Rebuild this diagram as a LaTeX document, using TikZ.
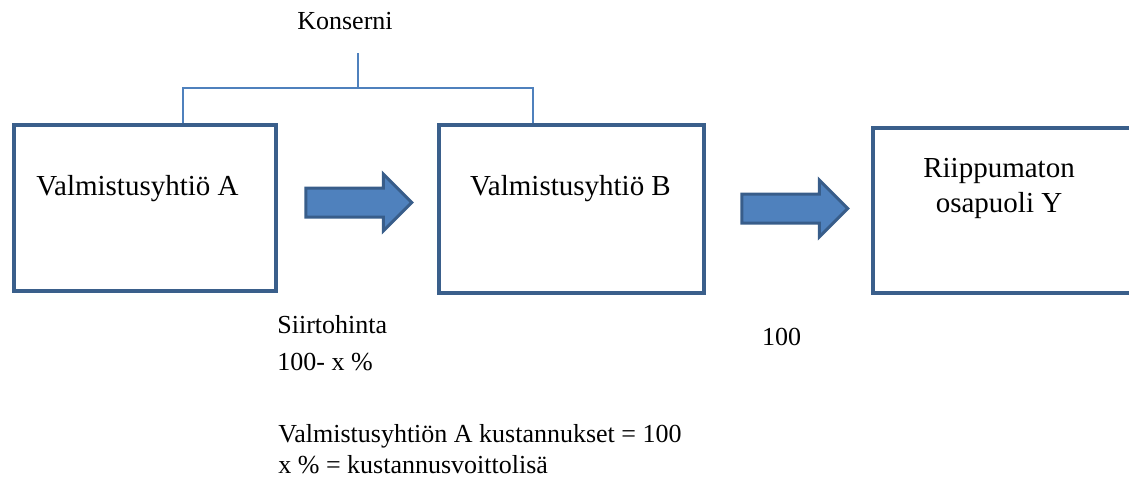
\documentclass[tikz,border=0pt]{standalone}
\usepackage{fontspec}
\setmainfont{Liberation Serif}
\usetikzlibrary{shapes.arrows,positioning}
\definecolor{boxBorder}{RGB}{58,95,139}
\definecolor{lineBlue}{RGB}{79,129,189}
\definecolor{arrowBorder}{RGB}{56,93,138}

\begin{document}
\begin{tikzpicture}[x=0.5pt,y=-0.5pt,
    company/.style={draw=boxBorder,line width=2pt,inner sep=0pt},
    flow/.style={single arrow,fill=lineBlue,draw=arrowBorder,line width=1.5pt,
      inner xsep=0pt,inner ysep=6.5pt,minimum height=53pt,single arrow head extend=7pt},
    bracket/.style={draw=lineBlue,line width=0.75pt},
    boxtext/.style={font=\fontsize{14.5}{17.5}\selectfont,inner sep=0pt},
    note/.style={font=\fontsize{13}{15.5}\selectfont,inner sep=0pt,align=left}]

  \useasboundingbox (0,0) rectangle (1129,479);

  % draw the companies
  \node[company,minimum width=131pt,minimum height=83pt] (A) at (145,208) {};
  \node[company,minimum width=132.5pt,minimum height=84pt] (B) at (571.5,209) {};
  \node[company,minimum width=136pt,minimum height=82.5pt] (Y) at (1009,210.5) {};

  % (base of a two line node is its last line)
  \node[boxtext,anchor=base] (labA) at (137.5,195) {Valmistusyhtiö A};
  \node[boxtext,anchor=base] (labB) at (570.5,195) {Valmistusyhtiö B};
  \node[boxtext,anchor=base,align=center] (labY) at (999,212) {Riippumaton\\osapuoli Y};

  % draw the group bracket
  \node[note,anchor=base] (konserni) at (345,29) {Konserni};
  \coordinate (kTop) at (358,53);
  \coordinate (jA) at (183,88);
  \coordinate (jB) at (533,88);
  \draw[bracket] (kTop) -- (kTop |- jA);
  \draw[bracket] (A.north -| jA) |- (jB) -- (B.north -| jB);

  % draw the flow arrows
  \node[flow] (arrAB) at (351.5,202.5) {};
  \node[flow] (arrBY) at (787.5,208.5) {};

  % the prices
  \node[note,anchor=base west,font=\fontsize{13}{18.5}\selectfont] (siirto) at (277,370) {Siirtohinta\\100- x \%};
  \node[note,anchor=base] (hinta) at (781.5,345) {100};
  \node[note,anchor=base west] (selite) at (278,473) {Valmistusyhtiön A kustannukset = 100\\x \% = kustannusvoittolisä};

\end{tikzpicture}
\end{document}
